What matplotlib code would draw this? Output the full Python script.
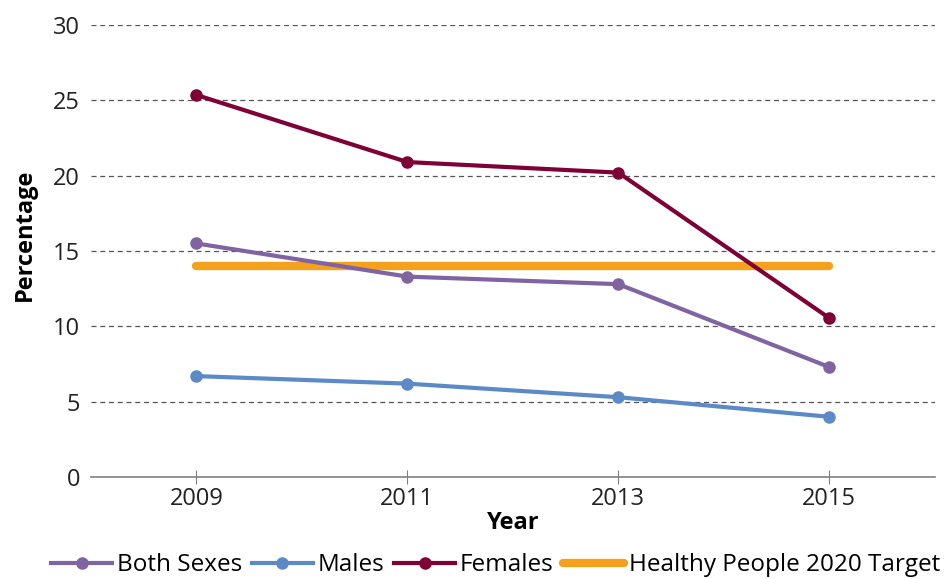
import matplotlib
matplotlib.use("Agg")
import matplotlib.pyplot as plt
from matplotlib.lines import Line2D

plt.rcParams['font.family'] = ['Open Sans', 'DejaVu Sans']

years = ["2009", "2011", "2013", "2015"]
both_sexes = [15.5, 13.3, 12.8, 7.3]
males = [6.7, 6.2, 5.3, 4.0]
females = [25.35, 20.9, 20.2, 10.55]
target = [14.0, 14.0, 14.0, 14.0]

c_both = "#8064A2"
c_male = "#5B8AC7"
c_fem = "#7F0036"
c_tgt = "#F5A11D"

fig = plt.figure(figsize=(9.48, 5.79), dpi=100)
ax = fig.add_axes([0.096, 0.176, 0.890, 0.781])
x = list(range(len(years)))

ax.plot(x, target, color=c_tgt, lw=6, solid_capstyle='round', zorder=2)
ax.plot(x, both_sexes, color=c_both, lw=3, marker='o', ms=8, zorder=3)
ax.plot(x, males, color=c_male, lw=3, marker='o', ms=8, zorder=3)
ax.plot(x, females, color=c_fem, lw=3, marker='o', ms=8, zorder=3)

ax.set_xlim(-0.5, 3.5)
ax.set_ylim(0, 30)
ax.set_yticks([0, 5, 10, 15, 20, 25, 30])
ax.set_xticks(x)
ax.set_xticklabels(years)
for yv in [5, 10, 15, 20, 25, 30]:
    ax.axhline(yv, color='#555555', lw=0.9, ls=(0, (4, 3)), zorder=1)

for s in ['top', 'right', 'left']:
    ax.spines[s].set_visible(False)
ax.spines['bottom'].set_color('#808080')
ax.spines['bottom'].set_linewidth(1.2)
ax.tick_params(axis='y', length=0, labelsize=17, colors='#222222', pad=8)
ax.tick_params(axis='x', direction='inout', length=10, color='#808080', labelsize=17,
               labelcolor='#222222', pad=2)

ax.set_xlabel("Year", fontsize=17, fontweight='bold', labelpad=0)
ax.set_ylabel("Percentage", fontsize=17, fontweight='bold')
ax.yaxis.set_label_coords(-0.064, 0.535)

handles = [
    Line2D([0], [0], color=c_both, lw=3, marker='o', ms=8),
    Line2D([0], [0], color=c_male, lw=3, marker='o', ms=8),
    Line2D([0], [0], color=c_fem, lw=3, marker='o', ms=8),
    Line2D([0], [0], color=c_tgt, lw=6, solid_capstyle='round'),
]
labels = ["Both Sexes", "Males", "Females", "Healthy People 2020 Target"]
fig.legend(handles, labels, loc='lower center', bbox_to_anchor=(0.523, -0.035), ncol=4,
           frameon=False, fontsize=17.5, handlelength=2.5, handletextpad=0.2, columnspacing=0.4)

fig.savefig("out.png", dpi=100)
